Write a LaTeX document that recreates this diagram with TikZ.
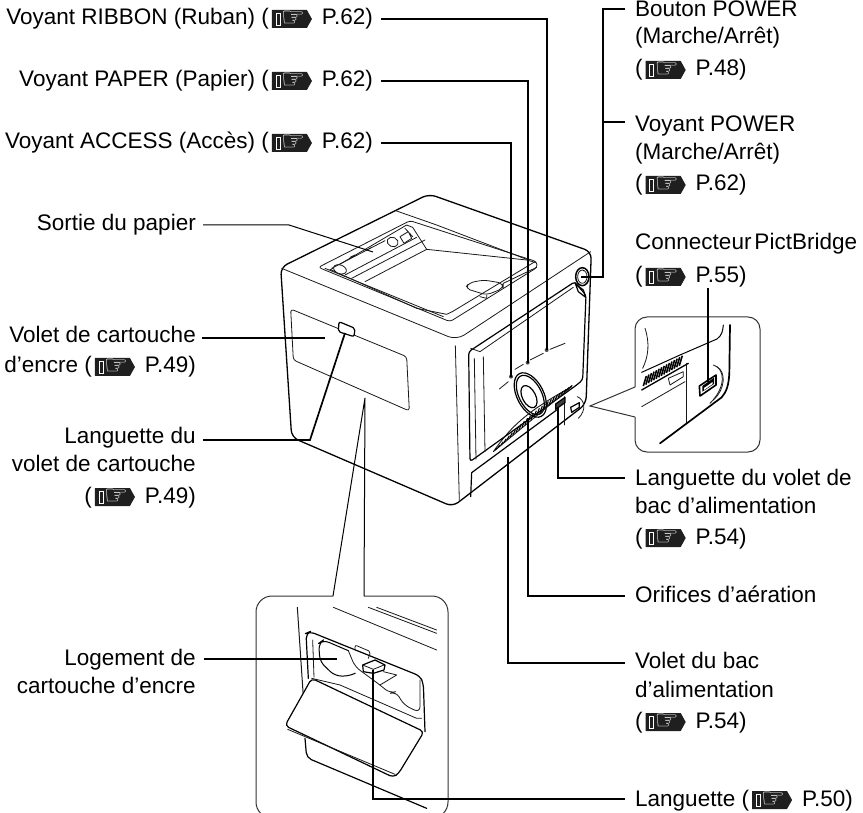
\documentclass[tikz,border=0pt]{standalone}
\usepackage{fontspec}
\setmainfont{Liberation Sans}
\newfontfamily\handfont{DejaVu Sans}
\newcommand\handicon{\tikz[x=1pt,y=1pt,baseline=0pt]{
  \fill[black!88] (0,-3)--(35,-3)--(40,6)--(35,15)--(0,15)--cycle;
  \draw[white,line width=.6pt] (4,0) rectangle (8,12);
  \node[white,inner sep=0pt,anchor=center,text height=,text depth=,font=\handfont\fontsize{27}{27}\selectfont] at (21,6) {☞};
}}
\newcommand\refp[1]{(\hspace{3pt}\handicon\hspace{10pt}P.#1)}
\tikzset{
  lab/.style={inner sep=0pt,text height=16pt,text depth=5pt,font=\fontsize{22.5}{27}\selectfont},
  lw/.style={lab,anchor=base west},
  le/.style={lab,anchor=base east},
  lead/.style={line width=1.7pt,black,line join=miter},
  leadthin/.style={line width=1pt,black},
  outl/.style={line width=1.2pt,black,line join=round,line cap=round},
  fine/.style={line width=.8pt,black!90,line join=round,line cap=round},
  frame/.style={line width=1pt,black!80},
}
\begin{document}
\begin{tikzpicture}[x=1pt,y=-1pt]
\useasboundingbox (0,0) rectangle (863,813);
\clip (0,0) rectangle (863,813);

% ---------- printer, coordinates of a 3x crop with origin (230,180)
\begin{scope}[shift={(230,180)},x=.33333pt,y=-.33333pt]
 % body
 \draw[outl,line width=1.3pt,rounded corners=7pt] (152,262)--(597,42)--(1084,215)--(1068,672)--(668,980)--(185,772)--cycle;
 \draw[fine,rounded corners=9pt] (155,265)--(680,480)--(1082,215);
 \draw[fine] (676,497)--(688,962);
 % tray
 \draw[fine,rounded corners=3pt] (265,262)--(540,122)--(920,245)--(922,262)--(660,425)--cycle;
 \draw[fine] (497,92)--(620,135)--(890,238);
 \draw[fine] (300,270)--(530,135)--(548,142)--(590,208)--(890,240)--(918,248);
 \draw[fine] (345,285)--(560,172);
 \draw[fine] (365,295)--(585,180);
 \draw[fine] (405,305)--(590,208);
 \draw[fine] (300,268)--(560,385)--(650,403)--(667,395)--(915,245);
 \draw[fine] (285,265)--(640,410);
 \draw[fine] (820,310)--(920,262);
 \draw[fine,rounded corners=5pt] (770,345)--(705,325)--(718,308)--(762,300)--(820,310)--(820,325)--cycle;
 \draw[fine] (770,345)--(770,355)--(750,350);
 \draw[fine,fill=white,rotate around={-20:(330,268)}] (330,268) ellipse (20 and 13);
 \draw[fine,fill=white,rotate around={-25:(488,186)}] (488,186) ellipse (17 and 14);
 \draw[fine] (510,170)--(535,155)--(545,175)--(522,190)--cycle (525,145)--(548,170);
 \draw[fine] (305,265)--(465,182) (360,232)--(375,225) (410,210)--(425,202);
 % left door
 \draw[fine,rounded corners=3pt] (182,387)--(530,530)--(538,693)--(190,540)--cycle;
 \draw[outl,fill=white,rounded corners=2pt] (327,425)--(375,445)--(372,470)--(325,455)--cycle;
 % front panel
 \draw[outl,rounded corners=3pt] (716,515)--(720,845)--(1040,615)--(1058,600)--(1068,345)--(1047,322)--(1035,305)--cycle;
 \draw[fine] (722,505)--(750,515)--(1030,322);
 \draw[fine] (733,535)--(738,838) (760,530)--(765,815);
 \draw[fine] (808,627)--(835,605) (855,568)--(880,553) (900,540)--(940,520) (960,508)--(1005,490);
 \foreach \p in {(843,590),(893,548),(950,510)} \fill[black!70] \p circle (6);
 % dial
 \draw[outl,rotate around={27:(901,645)}] (901,645) ellipse (40 and 72);
 \draw[outl,rotate around={27:(901,645)}] (901,645) ellipse (34 and 64);
 \draw[outl,rotate around={27:(897,650)}] (897,650) ellipse (20 and 36);
 % vent
 \draw[fine,line width=.9pt] (790,815)..controls (840,745) and (880,700)..(1025,620)--cycle;
 \foreach \t in {0,.04,...,1.0} \draw[black,line width=1.1pt] ({795+\t*225},{810-\t*188})--+(7,{-6-14*sin(\t*180)});
 % feed door
 \draw[outl] (722,950)--(725,878)--(980,690);
 \draw[fine] (1003,650)--(1003,735);
 \draw[outl,fill=black!75] (977,672)--(1005,652)--(1005,668)--(977,688)--cycle;
 % connector
 \draw[outl] (1022,682)--(1048,668)--(1048,682)--(1025,697)--cycle;
 \draw[fine] (1042,650)..controls (1065,660) and (1070,690)..(1045,715);
 % power button
 \draw[outl] (1035,308)--(1045,335)--(1067,352) (1040,315)--(1060,330)--(1067,352);
 \draw[outl,line width=1.5pt,fill=white] (1057,290) ellipse (20 and 27);
 \draw[fine] (1057,290) ellipse (14 and 20);
 \fill[black] (1060,272) circle (2);
\end{scope}

% ---------- inset, PictBridge connector, crop origin (590,310)
\draw[frame,rounded corners=12pt] (635,387)--(635,317)--(760,317)--(760,452)--(635,452)--(635,417);
\draw[frame] (635,387)--(590,406)--(635,417);
\begin{scope}[shift={(590,310)},x=.33333pt,y=-.33333pt]
 \draw[fine] (165,55)..controls (180,100) and (175,140)..(158,175);
 \draw[outl,line width=1pt] (155,187)--(270,135)--(381,87)..controls (396,75) and (398,65)..(400,45);
 \draw[outl,line width=1.3pt] (155,240)--(295,160);
 \foreach \t in {0,.07,...,1.0} \draw[black,line width=1.6pt] ({160+\t*110},{228-\t*62})--+(9,-30);
 \draw[fine] (155,290)--(285,215);
 \draw[fine] (290,160)--(290,340);
 \draw[fine] (235,205)--(280,185)--(280,200)--(240,225)--cycle;
 \draw[outl,line width=1.6pt] (328,228)--(378,195)--(378,225)--(330,258)--cycle;
 \fill[black] (337,228)--(372,203)--(372,222)--(337,245)--cycle;
 \fill[white] (342,234)--(368,216)--(368,222)--(342,240)--cycle;
 \draw[fine] (370,165)..controls (405,175) and (410,230)..(360,280);
 \draw[fine] (380,170)..controls (410,185) and (405,240)..(370,270);
 \draw[outl,line width=1.7pt] (420,45)--(418,190)..controls (416,225) and (410,245)..(395,262)--(210,400);
\end{scope}

% ---------- inset, ink cartridge, crop origin (240,590)
\draw[frame,rounded corners=16pt] (364,596)--(448,596)--(448,818)--(256,818)--(256,596)--(333,596);
\draw[frame,black] (333,596)--(365,398)--(364,596);
\begin{scope}[shift={(240,590)},x=.33333pt,y=-.33333pt]
 \draw[fine,line width=1pt] (172,52)--(190,320);
 \draw[fine] (280,52)--(590,180) (385,52)--(590,130) (410,52)--(590,120);
 \draw[outl,rounded corners=5pt] (205,265)--(198,130)--(210,125)--(540,258)--(550,280)--(555,425);
 \draw[fine] (215,265)--(300,285)--(530,385)--(545,385);
 \draw[fine] (218,150)--(222,262);
 \draw[outl,line width=1pt,rounded corners=6pt] (345,250)--(330,258)--(285,258)--(240,215)--(236,160)--(250,150)--(325,182);
 \draw[fine,rounded corners=6pt] (325,182)--(345,230)--(420,285)--(450,310)--(468,305)--(492,345)--(540,368)--(540,270);
 \draw[fine,rounded corners=2pt] (345,180)--(345,165)--(392,185)--(385,205);
 \draw[fine] (430,245)--(470,255)--(420,285);
 \draw[outl,fill=white] (368,225)--(405,210)--(435,225)--(432,240)--(400,250)--(370,245)--cycle;
 \draw[fine] (368,225)--(400,238)--(432,225) (400,238)--(400,250);
 \draw[outl,rounded corners=4pt,fill=white] (215,265)--(135,407)--(460,562)--(476,550)--(552,425)--cycle;
 \draw[fine] (143,418)--(465,553);
 \draw[outl,rounded corners=5pt] (195,445)--(200,503)--(560,655);
\end{scope}

% ---------- labels
\node[le] (tRib) at (373,25) {Voyant RIBBON (Ruban) \refp{62}};
\node[le] (tPap) at (373,87) {Voyant PAPER (Papier) \refp{62}};
\node[le] (tAcc) at (373,149) {Voyant ACCESS (Accès) \refp{62}};
\node[le] (tSor) at (196,231) {Sortie du papier};
\node[le] (tVc1) at (196,342) {Volet de cartouche};
\node[le] (tVc2) at (196,373) {d’encre \refp{49}};
\node[le] (tLg1) at (196,443) {Languette du};
\node[le] (tLg2) at (196,471) {volet de cartouche};
\node[le] (tLg3) at (196,503) {\refp{49}};
\node[le] (tLo1) at (196,665) {Logement de};
\node[le] (tLo2) at (196,693) {cartouche d’encre};

\node[lw] (tBo1) at (635,17) {Bouton POWER};
\node[lw] (tBo2) at (635,44) {(Marche/Arrêt)};
\node[lw] (tBo3) at (635,76) {\refp{48}};
\node[lw] (tVp1) at (635,132) {Voyant POWER};
\node[lw] (tVp2) at (635,160) {(Marche/Arrêt)};
\node[lw] (tVp3) at (635,191) {\refp{62}};
\node[lw] (tCo1) at (635,250) {Connecteur\hspace{3pt}PictBridge};
\node[lw] (tCo2) at (635,283) {\refp{55}};
\node[lw] (tLb1) at (635,485) {Languette du volet de};
\node[lw] (tLb2) at (635,513) {bac d’alimentation};
\node[lw] (tLb3) at (635,544) {\refp{54}};
\node[lw] (tOri) at (635,602) {Orifices d’aération};
\node[lw] (tVb1) at (635,668) {Volet du bac};
\node[lw] (tVb2) at (635,697) {d’alimentation};
\node[lw] (tVb3) at (635,728) {\refp{54}};
\node[lw] (tLan) at (635,806) {Languette \refp{50}};

% ---------- connector ends
\coordinate (cRib) at (547,19);  \coordinate (eRib) at (547,350);
\coordinate (cPap) at (528,81);  \coordinate (ePap) at (528,363);
\coordinate (cAcc) at (511,143); \coordinate (eAcc) at (511,377);
\coordinate (cSor) at (289,225); \coordinate (eSor) at (373,252);
\coordinate (eVc) at (325,338);
\coordinate (cLg) at (310,440);  \coordinate (eLg) at (345,333);
\coordinate (eLo) at (337,659);
\coordinate (cBo) at (603,9);    \coordinate (jVp) at (603,122);
\coordinate (cPw) at (603,277);  \coordinate (ePw) at (581,277);
\coordinate (ePi) at (708,382);
\coordinate (cLb) at (558,478);  \coordinate (eLb) at (558,407);
\coordinate (cOr) at (528,596);  \coordinate (eOr) at (528,418);
\coordinate (cVb) at (508,663);  \coordinate (eVb) at (508,457);
\coordinate (cLn) at (373,799);  \coordinate (eLn) at (373,670);

% ---------- connectors
\draw[lead] ([xshift=8pt]tRib.east |- cRib)--(cRib)--(eRib);
\draw[lead] ([xshift=8pt]tPap.east |- cPap)--(cPap)--(ePap);
\draw[lead] ([xshift=8pt]tAcc.east |- cAcc)--(cAcc)--(eAcc);
\draw[leadthin] ([xshift=7pt]tSor.east |- cSor)--(cSor)--(eSor);
\draw[lead] ([xshift=6pt]tVc1.east |- eVc)--(eVc);
\draw[lead] ([xshift=7pt]tLg1.east |- cLg)--(cLg)--(eLg);
\draw[lead] ([xshift=8pt]tLo1.east |- eLo)--(eLo);
\draw[lead] ([xshift=-10pt]tBo1.west |- cBo)--(cBo)--(cPw)--(ePw);
\draw[lead] ([xshift=-10pt]tVp1.west |- jVp)--(jVp);
\draw[lead] (ePi |- tCo2.south)--(ePi);
\draw[lead] ([xshift=-10pt]tLb1.west |- cLb)--(cLb)--(eLb);
\draw[lead] ([xshift=-10pt]tOri.west |- cOr)--(cOr)--(eOr);
\draw[lead] ([xshift=-10pt]tVb1.west |- cVb)--(cVb)--(eVb);
\draw[lead] ([xshift=-10pt]tLan.west |- cLn)--(cLn)--(eLn);
\end{tikzpicture}
\end{document}
